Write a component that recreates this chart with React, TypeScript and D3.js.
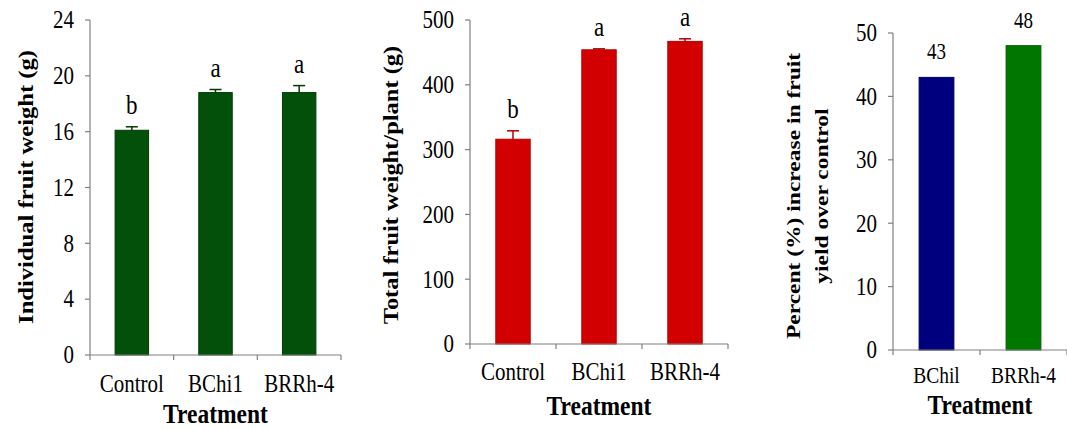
import React from "react";
import * as d3 from "d3";

// ---------- Data ----------
const categories12 = ["Control", "BChi1", "BRRh-4"];
const fruitWeight = [16.1, 18.8, 18.8];
const fruitWeightErr = [0.25, 0.22, 0.5];
const fruitWeightLetters = ["b", "a", "a"];
const fruitWeightTicks = [0, 4, 8, 12, 16, 20, 24];

const totalWeight = [316, 454, 467];
const totalWeightErr = [13, 1.5, 4];
const totalWeightLetters = ["b", "a", "a"];
const totalWeightTicks = [0, 100, 200, 300, 400, 500];

const categories3 = ["BChil", "BRRh-4"];
const percentIncrease = [43, 48];
const percentTicks = [0, 10, 20, 30, 40, 50];

const FONT = "'Liberation Serif', 'Times New Roman', Times, serif";
const AXIS = "#808080";
const SY = 1.2; // vertical stretch of the original figure's lettering

type TProps = {
  x: number;
  y: number;
  size: number;
  anchor?: "start" | "middle" | "end";
  bold?: boolean;
  dy?: string;
  children: React.ReactNode;
};

function T({ x, y, size, anchor = "middle", bold, dy, children }: TProps) {
  return (
    <text
      transform={`translate(${x},${y}) scale(1,${SY})`}
      x={0}
      y={0}
      dy={dy}
      textAnchor={anchor}
      fontFamily={FONT}
      fontWeight={bold ? "bold" : "normal"}
      fontSize={size}
      fill="#000"
    >
      {children}
    </text>
  );
}

type PanelProps = {
  cats: string[];
  values: number[];
  errs?: number[];
  letters?: string[];
  valueLabels?: boolean;
  ticks: number[];
  yMax: number;
  x0: number;
  x1: number;
  yTop: number;
  yBottom: number;
  colors: string[];
  strokes: string[];
  yLabel: string[];
  yLabelX: number;
  yLabelY: number;
  yLabelSize: number;
  yLabelGap: number;
  catSize: number;
  catBaseline: number;
  titleBaseline: number;
};

function Panel(p: PanelProps) {
  const x = d3
    .scaleBand<string>()
    .domain(p.cats)
    .range([p.x0, p.x1])
    .paddingInner(0.6)
    .paddingOuter(0.3);
  const step = x.step();
  const y = d3.scaleLinear().domain([0, p.yMax]).range([p.yBottom, p.yTop]);
  const bw = x.bandwidth();
  const boundaries = d3.range(p.cats.length + 1).map((i) => p.x0 + i * step);
  return (
    <g>
      {p.cats.map((c, i) => (
        <rect
          key={"b" + c}
          x={x(c)!}
          y={y(p.values[i])}
          width={bw}
          height={y(0) - y(p.values[i])}
          fill={p.colors[i % p.colors.length]}
          stroke={p.strokes[i % p.strokes.length]}
          strokeWidth={1}
        />
      ))}
      {p.errs &&
        p.cats.map((c, i) => {
          const cx = x(c)! + bw / 2;
          const top = y(p.values[i] + p.errs![i]);
          return (
            <g key={"e" + c} stroke={p.strokes[i % p.strokes.length]} strokeWidth={1.5}>
              <line x1={cx} x2={cx} y1={y(p.values[i])} y2={top} />
              <line x1={cx - 6} x2={cx + 6} y1={top} y2={top} />
            </g>
          );
        })}
      {p.letters &&
        p.cats.map((c, i) => (
          <T
            key={"l" + c}
            x={x(c)! + bw / 2}
            y={y(p.values[i] + (p.errs ? p.errs[i] : 0)) - 13}
            size={23}
          >
            {p.letters![i]}
          </T>
        ))}
      {p.valueLabels &&
        p.cats.map((c, i) => (
          <T key={"v" + c} x={x(c)! + bw / 2} y={y(p.values[i]) - 18} size={19}>
            {p.values[i]}
          </T>
        ))}
      {/* y axis */}
      <line x1={p.x0} x2={p.x0} y1={y(p.yMax)} y2={y(0)} stroke={AXIS} strokeWidth={1.2} />
      {p.ticks.map((t) => (
        <g key={"t" + t}>
          <line x1={p.x0 - 5} x2={p.x0} y1={y(t)} y2={y(t)} stroke={AXIS} strokeWidth={1.2} />
          <T x={p.x0 - 16} y={y(t)} dy="0.33em" anchor="end" size={21}>
            {t}
          </T>
        </g>
      ))}
      {/* x axis */}
      <line x1={p.x0} x2={p.x1} y1={y(0)} y2={y(0)} stroke={AXIS} strokeWidth={1.2} />
      {boundaries.map((bx, i) => (
        <line key={"xt" + i} x1={bx} x2={bx} y1={y(0)} y2={y(0) + 5} stroke={AXIS} strokeWidth={1.2} />
      ))}
      {p.cats.map((c) => (
        <T key={"c" + c} x={x(c)! + bw / 2} y={p.catBaseline} size={p.catSize}>
          {c}
        </T>
      ))}
      <T x={(p.x0 + p.x1) / 2} y={p.titleBaseline} size={23.5} bold>
        Treatment
      </T>
      <text
        transform={`translate(${p.yLabelX},${p.yLabelY}) scale(1,${SY}) rotate(-90)`}
        textAnchor="middle"
        fontFamily={FONT}
        fontWeight="bold"
        fontSize={p.yLabelSize}
        fill="#000"
      >
        {p.yLabel.map((line, i) => (
          <tspan key={i} x={0} y={i * p.yLabelGap}>
            {line}
          </tspan>
        ))}
      </text>
    </g>
  );
}

export default function App() {
  return (
    <svg
      width={1067}
      height={429}
      style={{ position: "absolute", left: 0, top: 0, background: "#fff" }}
    >
      <rect x={0} y={0} width={1067} height={429} fill="#fff" />
      <Panel
        cats={categories12}
        values={fruitWeight}
        errs={fruitWeightErr}
        letters={fruitWeightLetters}
        ticks={fruitWeightTicks}
        yMax={24}
        x0={90}
        x1={341}
        yTop={20}
        yBottom={355}
        colors={["#03500a"]}
        strokes={["#013a05"]}
        yLabel={["Individual fruit weight (g)"]}
        yLabelX={33}
        yLabelY={187}
        yLabelSize={20.5}
        yLabelGap={0}
        catSize={21}
        catBaseline={392}
        titleBaseline={423}
      />
      <Panel
        cats={categories12}
        values={totalWeight}
        errs={totalWeightErr}
        letters={totalWeightLetters}
        ticks={totalWeightTicks}
        yMax={500}
        x0={470}
        x1={728}
        yTop={20}
        yBottom={344}
        colors={["#d20000"]}
        strokes={["#b00000"]}
        yLabel={["Total fruit weight/plant (g)"]}
        yLabelX={398}
        yLabelY={185}
        yLabelSize={20.4}
        yLabelGap={0}
        catSize={21}
        catBaseline={380}
        titleBaseline={415}
      />
      <Panel
        cats={categories3}
        values={percentIncrease}
        valueLabels={true}
        ticks={percentTicks}
        yMax={50}
        x0={893}
        x1={1067}
        yTop={33}
        yBottom={350}
        colors={["#00007f", "#007800"]}
        strokes={["#000060", "#005a00"]}
        yLabel={["Percent (%) increase in fruit", "yield over control"]}
        yLabelX={800}
        yLabelY={196}
        yLabelSize={19.6}
        yLabelGap={28}
        catSize={19.5}
        catBaseline={383}
        titleBaseline={414}
      />
    </svg>
  );
}
